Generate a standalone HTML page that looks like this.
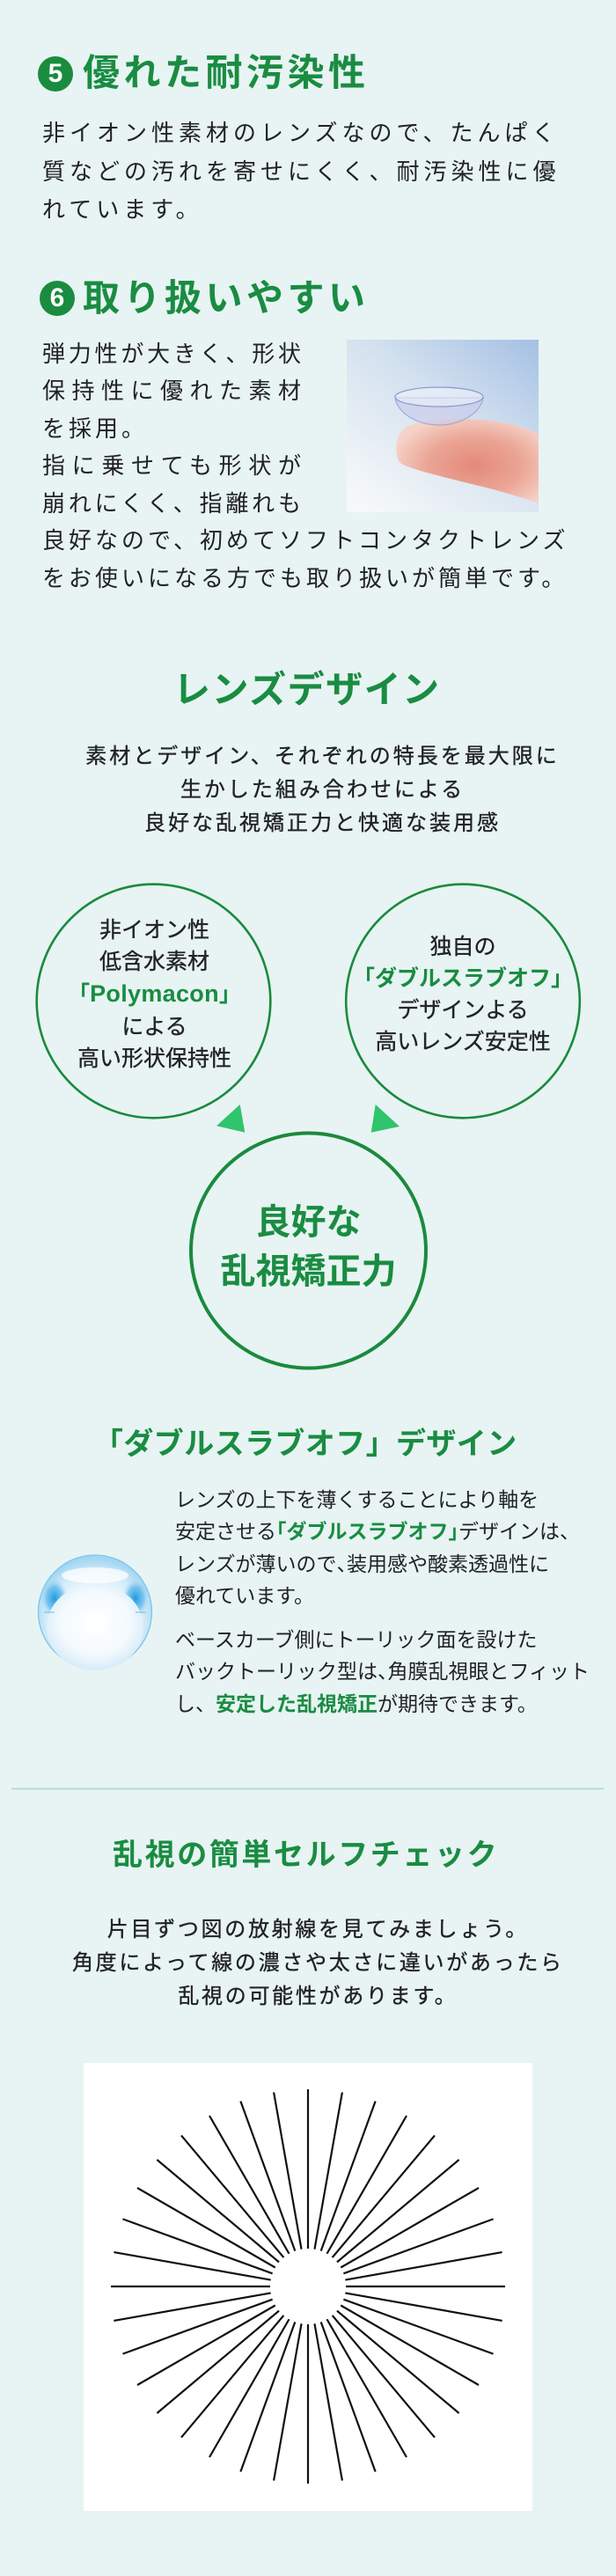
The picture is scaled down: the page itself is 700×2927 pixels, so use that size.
<!DOCTYPE html>
<html lang="ja">
<head>
<meta charset="utf-8">
<style>
  html,body{margin:0;padding:0;}
  body{width:700px;height:2927px;background:#e7f4f3;position:relative;overflow:hidden;
       font-family:"Liberation Sans","Noto Sans CJK JP",sans-serif;color:#222;}
  .a{position:absolute;white-space:nowrap;}
  .num{position:absolute;width:40px;height:40px;border-radius:50%;background:#1a8c3f;color:#fff;
       font:700 30px/40px "Liberation Sans",sans-serif;text-align:center;}
  .h1{font-size:42px;font-weight:700;line-height:50px;letter-spacing:4.5px;color:#1a8c42;}
  .g{color:#1a8c42;font-weight:700;}
  .med{-webkit-text-stroke:0.35px #222;}
  .jl{display:block;text-align:justify;text-align-last:justify;white-space:nowrap;}
  .pol{font-size:27px;letter-spacing:0.3px;}
</style>
</head>
<body>

<svg width="700" height="2927" style="position:absolute;left:0;top:0" xmlns="http://www.w3.org/2000/svg">
  <defs>
    <linearGradient id="sky" x1="1" y1="0" x2="0.15" y2="1">
      <stop offset="0" stop-color="#a5c0e4"/>
      <stop offset="0.45" stop-color="#d3e1ef"/>
      <stop offset="1" stop-color="#f5f8f9"/>
    </linearGradient>
    <radialGradient id="skin" cx="0.55" cy="0.55" r="0.6">
      <stop offset="0" stop-color="#e4897a"/>
      <stop offset="0.55" stop-color="#eba595"/>
      <stop offset="1" stop-color="#f5d3c8"/>
    </radialGradient>
    <radialGradient id="lensG" cx="0.5" cy="0.58" r="0.55">
      <stop offset="0" stop-color="#ffffff"/>
      <stop offset="0.4" stop-color="#fbfdff"/>
      <stop offset="0.78" stop-color="#d3ecf9"/>
      <stop offset="1" stop-color="#a4d6f2"/>
    </radialGradient>
    <radialGradient id="lensIn" cx="0.5" cy="0.45" r="0.6">
      <stop offset="0" stop-color="#ffffff"/>
      <stop offset="0.6" stop-color="#f4fafe"/>
      <stop offset="1" stop-color="#cfe8f7"/>
    </radialGradient>
    <radialGradient id="blueSide" cx="0.5" cy="0.5" r="0.5">
      <stop offset="0" stop-color="#1d9be0"/>
      <stop offset="0.6" stop-color="#56b5ea" stop-opacity="0.7"/>
      <stop offset="1" stop-color="#a8d8f3" stop-opacity="0"/>
    </radialGradient>
  </defs>

  <!-- finger photo -->
  <rect x="394" y="386" width="218" height="196" fill="url(#sky)"/>
  <path d="M612,493 C588,482 560,476 530,476 C500,476 470,478 458,488 C448,497 448,520 456,527 C470,534 500,541 540,551 C570,558 595,566 612,572 Z" fill="url(#skin)"/>
  <path d="M449,452 C452,470 475,483 499,483 C523,483 546,470 549,452 Z" fill="#c6c9ea" fill-opacity="0.6" stroke="#8d97d0" stroke-opacity="0.7" stroke-width="1.2"/>
  <ellipse cx="499" cy="451" rx="50" ry="11" fill="#eef2fa" fill-opacity="0.6" stroke="#8f9bd6" stroke-width="1.3"/>

  <!-- circles -->
  <circle cx="174.5" cy="1137.5" r="132.8" fill="none" stroke="#1b8a3e" stroke-width="2.6"/>
  <circle cx="526" cy="1137.5" r="132.8" fill="none" stroke="#1b8a3e" stroke-width="2.6"/>
  <circle cx="350.5" cy="1421" r="133.5" fill="none" stroke="#1b8a3e" stroke-width="4"/>

  <!-- triangles -->
  <polygon points="246,1279.3 272.7,1255 278.3,1286.7" fill="#30c46d"/>
  <polygon points="421.7,1286.7 426.7,1255 454,1280" fill="#30c46d"/>

  <!-- lens icon -->
  <circle cx="108" cy="1831.5" r="64.5" fill="url(#lensG)" stroke="#7cc6ec" stroke-width="1.3"/>
  <ellipse cx="62" cy="1816" rx="15" ry="22" fill="url(#blueSide)"/>
  <ellipse cx="154" cy="1816" rx="15" ry="22" fill="url(#blueSide)"/>
  <ellipse cx="108" cy="1849" rx="55" ry="49" fill="url(#lensIn)"/>
  <ellipse cx="108" cy="1790" rx="38" ry="9" fill="#ffffff" fill-opacity="0.75"/>
  <line x1="50" y1="1832" x2="62" y2="1832" stroke="#7ab8d8" stroke-width="1"/>
  <line x1="154" y1="1832" x2="166" y2="1832" stroke="#7ab8d8" stroke-width="1"/>

  <!-- divider -->
  <rect x="13" y="2031.5" width="673" height="2" fill="#b4dfcb"/>

  <!-- white box + radial chart -->
  <rect x="95" y="2344" width="510" height="509" fill="#ffffff"/>
  <g transform="translate(350,2598)" stroke="#111" stroke-width="2.2" fill="none">
    <path d="M0,-224V-43M0,43V224"/>
    <path d="M0,-224V-43M0,43V224" transform="rotate(10)"/>
    <path d="M0,-224V-43M0,43V224" transform="rotate(20)"/>
    <path d="M0,-224V-43M0,43V224" transform="rotate(30)"/>
    <path d="M0,-224V-43M0,43V224" transform="rotate(40)"/>
    <path d="M0,-224V-43M0,43V224" transform="rotate(50)"/>
    <path d="M0,-224V-43M0,43V224" transform="rotate(60)"/>
    <path d="M0,-224V-43M0,43V224" transform="rotate(70)"/>
    <path d="M0,-224V-43M0,43V224" transform="rotate(80)"/>
    <path d="M0,-224V-43M0,43V224" transform="rotate(90)"/>
    <path d="M0,-224V-43M0,43V224" transform="rotate(100)"/>
    <path d="M0,-224V-43M0,43V224" transform="rotate(110)"/>
    <path d="M0,-224V-43M0,43V224" transform="rotate(120)"/>
    <path d="M0,-224V-43M0,43V224" transform="rotate(130)"/>
    <path d="M0,-224V-43M0,43V224" transform="rotate(140)"/>
    <path d="M0,-224V-43M0,43V224" transform="rotate(150)"/>
    <path d="M0,-224V-43M0,43V224" transform="rotate(160)"/>
    <path d="M0,-224V-43M0,43V224" transform="rotate(170)"/>
  </g>
</svg>

<!-- Section 5 -->
<div class="num" style="left:43px;top:64px">5</div>
<div class="a h1" style="left:94px;top:58px">優れた耐汚染性</div>
<div class="a" style="left:48px;top:130px;font-size:26px;line-height:43.5px;letter-spacing:5px">非イオン性素材のレンズなので、たんぱく<br>質などの汚れを寄せにくく、耐汚染性に優<br>れています。</div>

<!-- Section 6 -->
<div class="num" style="left:45px;top:319px">6</div>
<div class="a h1" style="left:94px;top:314px">取り扱いやすい</div>
<div class="a" style="left:48px;top:380.75px;width:294px;font-size:26px;line-height:42.5px;white-space:normal">
  <span class="jl">弾力性が大きく、形状</span>
  <span class="jl">保持性に優れた素材</span>
  <span style="display:block;letter-spacing:4px;white-space:nowrap">を採用。</span>
  <span class="jl">指に乗せても形状が</span>
  <span class="jl">崩れにくく、指離れも</span>
  <span style="display:block;letter-spacing:4px;white-space:nowrap">良好なので、初めてソフトコンタクトレンズ</span>
  <span style="display:block;letter-spacing:4px;white-space:nowrap">をお使いになる方でも取り扱いが簡単です。</span>
</div>

<!-- Lens design -->
<div class="a" style="left:197px;top:759px;font-size:42px;font-weight:700;line-height:50px;letter-spacing:1.5px;color:#1a8c42">レンズデザイン</div>
<div class="a med" style="left:16.5px;top:841px;width:700px;text-align:center;font-size:24px;line-height:38px;letter-spacing:3px">素材とデザイン、それぞれの特長を最大限に<br>生かした組み合わせによる<br>良好な乱視矯正力と快適な装用感</div>

<div class="a med" style="left:25.5px;top:1038.9px;width:300px;text-align:center;font-size:25px;line-height:36.25px">非イオン性<br>低含水素材<br><span class="g" style="-webkit-text-stroke:0">「<span class="pol">Polymacon</span>」</span><br>による<br>高い形状保持性</div>

<div class="a med" style="left:376px;top:1058px;width:300px;text-align:center;font-size:25px;line-height:36px">独自の<br><span class="g" style="-webkit-text-stroke:0">「ダブルスラブオフ」</span><br>デザインよる<br>高いレンズ安定性</div>

<div class="a" style="left:0;top:1362.25px;width:701px;text-align:center;font-size:40px;font-weight:700;line-height:55.5px;color:#1a8c42">良好な<br>乱視矯正力</div>

<!-- Double slab-off -->
<div class="a" style="left:106px;top:1619px;font-size:34px;font-weight:700;line-height:44px;letter-spacing:0.4px;color:#1a8c42">「ダブルスラブオフ」デザイン</div>

<div class="a" style="left:199px;top:1685.7px;font-size:23px;line-height:36.6px">レンズの上下を薄くすることにより軸を<br>安定させる<span class="g" style="font-feature-settings:'halt'">「</span><span class="g">ダブルスラブオフ</span><span class="g" style="font-feature-settings:'halt'">」</span>デザインは<span style="font-feature-settings:'halt'">、</span><br>レンズが薄いので<span style="font-feature-settings:'halt'">、</span>装用感や酸素透過性に<br>優れています。</div>

<div class="a" style="left:199px;top:1844.7px;font-size:23px;line-height:36.6px">ベースカーブ側にトーリック面を設けた<br>バックトーリック型は<span style="font-feature-settings:'halt'">、</span>角膜乱視眼とフィット<br>し、<span class="g">安定した乱視矯正</span>が期待できます。</div>

<!-- Self check -->
<div class="a" style="left:128px;top:2086px;font-size:34px;font-weight:700;line-height:44px;letter-spacing:2.6px;color:#1a8c42">乱視の簡単セルフチェック</div>
<div class="a med" style="left:11.35px;top:2174px;width:700px;text-align:center;font-size:24px;line-height:38px;letter-spacing:2.7px">片目ずつ図の放射線を見てみましょう。<br>角度によって線の濃さや太さに違いがあったら<br>乱視の可能性があります。</div>

</body>
</html>
